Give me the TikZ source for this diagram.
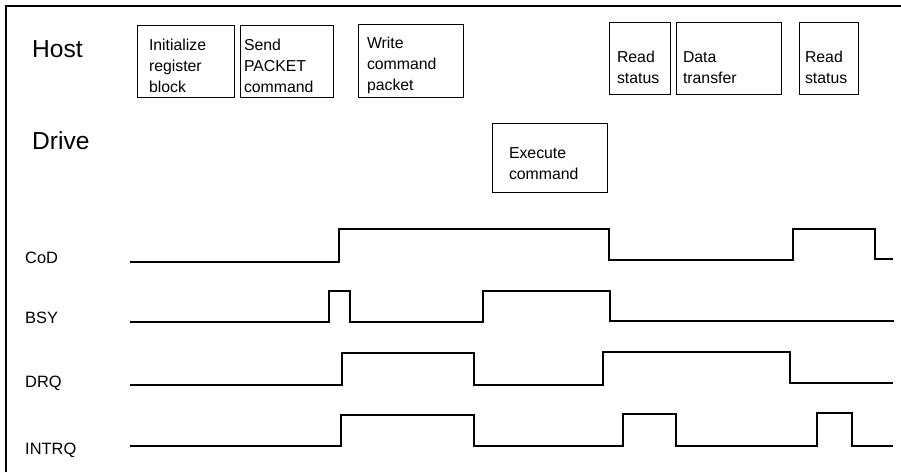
\documentclass[tikz,border=0pt]{standalone}
\usepackage{fontspec}
\setmainfont{Liberation Sans}
\usetikzlibrary{positioning}

\tikzset{
    phasebox/.style={draw, line width=0.8pt, align=left, inner sep=1pt,
        minimum height=2.17cm, font=\fontsize{13.5}{18}\selectfont,
        execute at begin node={\rule{0pt}{#1}}},
    phasebox/.default=17pt,
    siglabel/.style={anchor=base west, inner sep=0pt, font=\fontsize{14}{16}\selectfont},
    partlabel/.style={anchor=base west, inner sep=0pt, font=\fontsize{21}{24}\selectfont},
    sigline/.style={line width=0.9pt, line join=miter}
}

\begin{document}
\begin{tikzpicture}[x=0.03cm, y=-0.03cm]
    \useasboundingbox (0,0) rectangle (901,472);

    % Frame
    \draw[line width=1.1pt] (6,472) -- (6,6) -- (901,6);

    % Draw nodes
    \node[partlabel] (host) at (32,57) {Host};
    \node[partlabel] (drive) at (32,149) {Drive};

    \node[phasebox, minimum width=2.91cm, text width=2.19cm] (init) at (185.5,61.5) {Initialize\\register\\block};
    \node[phasebox, minimum width=2.79cm, text width=2.55cm] (sendpkt) at (286.5,61.5) {Send\\PACKET\\command};
    \node[phasebox, minimum width=3.15cm, text width=2.61cm] (writepkt) at (410.5,61) {Write\\command\\packet};
    \node[phasebox=25pt, minimum width=1.83cm, text width=1.35cm] (rdstat1) at (639.5,58.5) {Read\\status};
    \node[phasebox=25pt, minimum width=3.15cm, text width=2.73cm] (xfer) at (728.5,58.5) {Data\\transfer};
    \node[phasebox=25pt, minimum width=1.77cm, text width=1.41cm] (rdstat2) at (828.5,58.5) {Read\\status};
    \node[phasebox=19pt, minimum width=3.45cm, minimum height=2.07cm, text width=2.43cm] (exec) at (549.5,157.5) {Execute\\command};

    % Labels
    \node[siglabel] (cod) at (25,263) {CoD};
    \node[siglabel] (bsy) at (25,323) {BSY};
    \node[siglabel] (drq) at (25,387) {DRQ};
    \node[siglabel] (intrq) at (25,454) {INTRQ};

    % Draw waveforms
    \draw[sigline] (130,262) -- (339,262) -- (339,229) -- (609,229) -- (609,260)
        -- (793,260) -- (793,229) -- (875,229) -- (875,259) -- (893,259);
    \draw[sigline] (130,322) -- (329,322) -- (329,291) -- (350,291) -- (350,322)
        -- (483,322) -- (483,291) -- (610,291) -- (610,321) -- (894,321);
    \draw[sigline] (130,385) -- (342,385) -- (342,353) -- (474,353) -- (474,385)
        -- (603,385) -- (603,352) -- (790,352) -- (790,383) -- (893,383);
    \draw[sigline] (130,446) -- (341,446) -- (341,415) -- (474,415) -- (474,446)
        -- (623,446) -- (623,414) -- (676,414) -- (676,446) -- (817,446)
        -- (817,413) -- (852,413) -- (852,446) -- (893,446);
\end{tikzpicture}
\end{document}
